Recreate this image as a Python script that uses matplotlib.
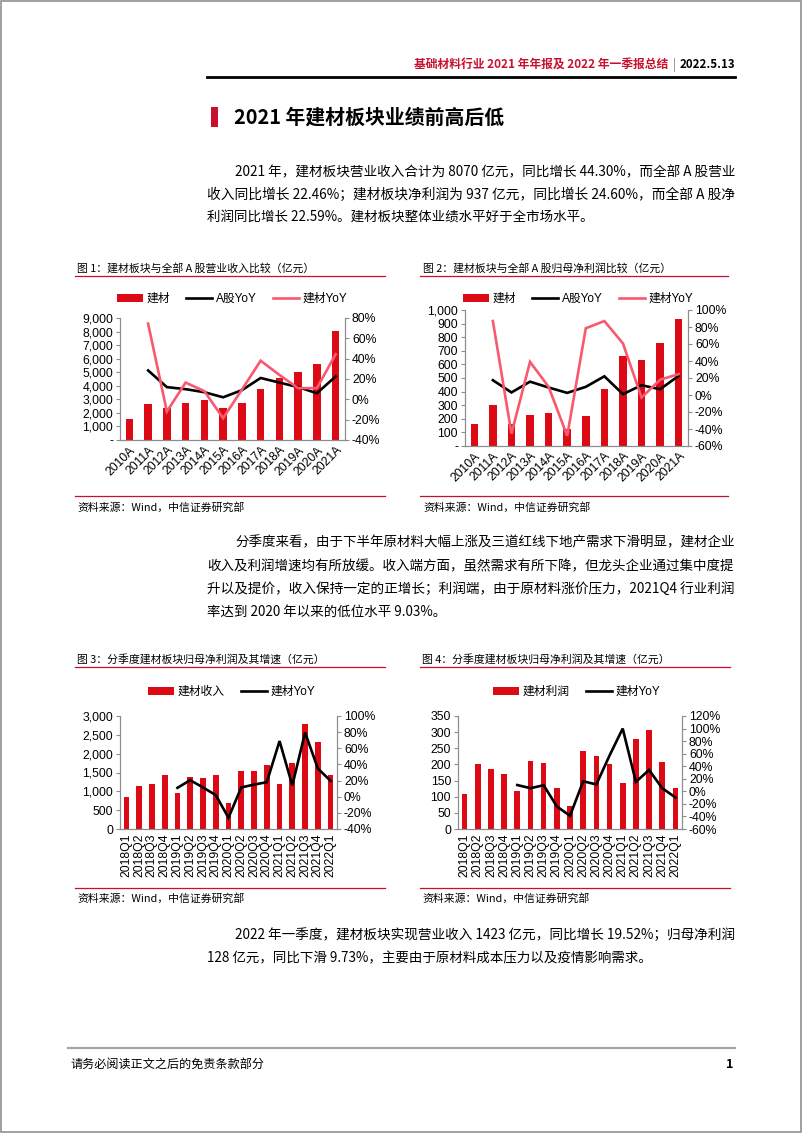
import matplotlib
matplotlib.use('Agg')
import matplotlib.pyplot as plt
from matplotlib.patches import Rectangle, Patch
from matplotlib.lines import Line2D
import matplotlib.ticker as mticker
import numpy as np

# ---------------- data ----------------
years = ['2010A', '2011A', '2012A', '2013A', '2014A', '2015A', '2016A',
         '2017A', '2018A', '2019A', '2020A', '2021A']
rev_jc = [1530, 2660, 2360, 2710, 2960, 2370, 2710, 3740, 4580, 5020, 5590, 8070]
rev_a_yoy = [np.nan, 28.4, 12.0, 10.0, 7.0, 2.0, 9.0, 21.0, 16.5, 12.0, 6.0, 22.46]
rev_jc_yoy = [np.nan, 74.5, -12.0, 16.5, 8.0, -18.5, 9.5, 38.0, 24.0, 11.0, 11.0, 44.3]

np_jc = [165, 302, 160, 225, 246, 125, 218, 418, 661, 636, 754, 937]
np_a_yoy = [np.nan, 17.4, 3.0, 15.7, 8.8, 2.5, 9.6, 22.0, 1.0, 11.5, 6.8, 22.59]
np_jc_yoy = [np.nan, 87.0, -45.5, 39.0, 9.6, -48.0, 78.5, 87.0, 60.7, -3.0, 18.0, 24.6]

quarters = ['2018Q1', '2018Q2', '2018Q3', '2018Q4', '2019Q1', '2019Q2', '2019Q3',
            '2019Q4', '2020Q1', '2020Q2', '2020Q3', '2020Q4', '2021Q1', '2021Q2',
            '2021Q3', '2021Q4', '2022Q1']
q_rev = [856, 1139, 1200, 1421, 953, 1368, 1341, 1439, 697, 1527, 1545, 1703,
         1183, 1747, 2780, 2312, 1423]
q_rev_yoy = [np.nan] * 4 + [11.0, 20.5, 11.5, 2.0, -26.0, 11.5, 15.0, 18.0,
                            69.0, 14.0, 79.5, 35.0, 19.52]
q_np = [108, 201, 185, 169, 118, 211, 203, 126, 71, 243, 226, 201,
        141, 278, 306, 209, 128]
q_np_yoy = [np.nan] * 4 + [10.0, 5.0, 9.7, -24.0, -39.0, 16.0, 11.0, 57.0,
                           100.0, 15.0, 34.0, 5.0, -9.73]

# ---------------- style ----------------
W, H = 802, 1133
RED = '#DC0A14'
PINK = '#F9596E'
CAPRED = '#C8102E'
GREY = '#8C8C8C'
CJK = ['Noto Sans CJK SC', 'DejaVu Sans']
plt.rcParams['font.family'] = ['Liberation Sans', 'Noto Sans CJK SC']
plt.rcParams['axes.unicode_minus'] = False

fig = plt.figure(figsize=(W / 100, H / 100), dpi=100)
renderer = fig.canvas.get_renderer()


def fx(x):
    return x / W


def fy(y):
    return 1 - y / H


def hline(x0, x1, y, color, lw):
    fig.add_artist(Line2D([fx(x0), fx(x1)], [fy(y), fy(y)], color=color, lw=lw,
                          transform=fig.transFigure))


def txt(x, y, s, size, color='black', weight='normal', ha='left', family=CJK, justify_to=None):
    t = fig.text(fx(x), fy(y), s, fontsize=size, color=color, weight=weight,
                 ha=ha, va='center', family=family)
    if justify_to is not None:
        bb = t.get_window_extent(renderer)
        scale = (justify_to - x) / bb.width
        scale = max(0.9, min(1.1, scale))
        t.set_fontsize(size * scale)
    return t


# page frame
fig.add_artist(Rectangle((0.001, 0.001), 0.998, 0.998, transform=fig.transFigure,
                         fill=False, edgecolor='#909090', lw=1.2))

# header
txt(668, 65, '基础材料行业 2021 年年报及 2022 年一季报总结', 8.5, color=CAPRED,
    weight='bold', ha='right')
txt(674, 65, '|', 8.5, color='#808080', ha='center')
txt(735, 65, '2022.5.13', 8.3, color='black', weight='bold', ha='right')
hline(207, 735, 77, 'black', 2.0)

# title
fig.add_artist(Rectangle((fx(211), fy(127)), 7 / W, 20 / H, transform=fig.transFigure,
                         facecolor=CAPRED, edgecolor='none'))
txt(234, 117, '2021 年建材板块业绩前高后低', 14.3, weight='bold')

BODY = 9.7
RIGHT = 735
# paragraph 1
txt(235, 172, '2021 年，建材板块营业收入合计为 8070 亿元，同比增长 44.30%，而全部 A 股营业', BODY, justify_to=RIGHT)
txt(207, 195, '收入同比增长 22.46%；建材板块净利润为 937 亿元，同比增长 24.60%，而全部 A 股净', BODY, justify_to=RIGHT)
txt(207, 218, '利润同比增长 22.59%。建材板块整体业绩水平好于全市场水平。', BODY)

# paragraph 2
txt(235, 542, '分季度来看，由于下半年原材料大幅上涨及三道红线下地产需求下滑明显，建材企业', BODY, justify_to=RIGHT)
txt(207, 566, '收入及利润增速均有所放缓。收入端方面，虽然需求有所下降，但龙头企业通过集中度提', BODY, justify_to=RIGHT)
txt(207, 589, '升以及提价，收入保持一定的正增长；利润端，由于原材料涨价压力，2021Q4 行业利润', BODY, justify_to=RIGHT)
txt(207, 612, '率达到 2020 年以来的低位水平 9.03%。', BODY)

# paragraph 3
txt(235, 935, '2022 年一季度，建材板块实现营业收入 1423 亿元，同比增长 19.52%；归母净利润', BODY, justify_to=RIGHT)
txt(207, 958, '128 亿元，同比下滑 9.73%，主要由于原材料成本压力以及疫情影响需求。', BODY)

# footer
hline(68, 735, 1048, '#A6A6A6', 1.6)
txt(70, 1064, '请务必阅读正文之后的免责条款部分', 8.7)
txt(733, 1064, '1', 9, weight='bold', ha='right')

# captions / source lines
CAP = 7.8
txt(77, 268, '图 1：建材板块与全部 A 股营业收入比较（亿元）', CAP)
hline(75, 385, 276, CAPRED, 0.9)
txt(423, 268, '图 2：建材板块与全部 A 股归母净利润比较（亿元）', CAP)
hline(420, 728, 276, CAPRED, 0.9)
hline(75, 385, 496, CAPRED, 0.9)
txt(77, 507, '资料来源：Wind，中信证券研究部', CAP)
hline(420, 728, 496, CAPRED, 0.9)
txt(423, 507, '资料来源：Wind，中信证券研究部', CAP)

txt(77, 659, '图 3：分季度建材板块归母净利润及其增速（亿元）', CAP)
hline(75, 385, 667, CAPRED, 0.9)
txt(422, 659, '图 4：分季度建材板块归母净利润及其增速（亿元）', CAP)
hline(420, 730, 667, CAPRED, 0.9)
hline(75, 385, 888, CAPRED, 0.9)
txt(77, 898, '资料来源：Wind，中信证券研究部', CAP)
hline(420, 730, 888, CAPRED, 0.9)
txt(422, 898, '资料来源：Wind，中信证券研究部', CAP)


# ---------------- charts ----------------
def make_chart(box, cats, bars, lines, ylim_l, step_l, ylim_r, step_r, dash_zero,
               rot, bar_w, legend_xy, bar_label, line_labels, line_colors):
    x0, y0, x1, y1 = box
    ax = fig.add_axes([fx(x0), fy(y1), (x1 - x0) / W, (y1 - y0) / H])
    xs = np.arange(len(cats))
    ax.bar(xs, bars, width=bar_w, color=RED, zorder=2)
    ax.set_xlim(-0.5, len(cats) - 0.5)
    ax.set_ylim(*ylim_l)
    ax.set_yticks(np.arange(ylim_l[0], ylim_l[1] + step_l / 2, step_l))

    def lfmt(v, p):
        if abs(v) < 1e-9:
            return '-' if dash_zero else '0'
        return '{:,.0f}'.format(v)
    ax.yaxis.set_major_formatter(mticker.FuncFormatter(lfmt))
    ax.set_xticks(xs)
    if rot == 45:
        ax.set_xticklabels(cats, rotation=45, ha='right', rotation_mode='anchor')
    else:
        ax.set_xticklabels(cats, rotation=90, ha='center', va='top')
    ax2 = ax.twinx()
    handles = [Patch(facecolor=RED, edgecolor='none')]
    for vals, col in zip(lines, line_colors):
        h, = ax2.plot(xs, vals, color=col, lw=1.9, solid_joinstyle='miter')
        handles.append(h)
    ax2.set_ylim(*ylim_r)
    ax2.set_yticks(np.arange(ylim_r[0], ylim_r[1] + step_r / 2, step_r))
    ax2.yaxis.set_major_formatter(mticker.FuncFormatter(lambda v, p: '{:.0f}%'.format(v)))
    for a in (ax, ax2):
        a.spines['top'].set_visible(False)
        for s in ('left', 'right', 'bottom'):
            a.spines[s].set_color(GREY)
            a.spines[s].set_linewidth(0.8)
        a.tick_params(axis='y', labelsize=8.8, length=3, width=0.8, color=GREY, pad=2)
        a.tick_params(axis='x', labelsize=8.8, length=0, pad=3)
    ax.patch.set_visible(False)
    ax2.legend(handles, [bar_label] + line_labels, loc='center',
               bbox_to_anchor=(fx(legend_xy[0]), fy(legend_xy[1])),
               bbox_transform=fig.transFigure, ncol=len(handles), frameon=False,
               fontsize=8.5, handlelength=2.2, handletextpad=0.3,
               columnspacing=1.4, borderpad=0, borderaxespad=0)
    return ax, ax2


make_chart((120, 318, 345, 440), years, rev_jc, [rev_a_yoy, rev_jc_yoy],
           (0, 9000), 1000, (-40, 80), 20, True, 45, 0.4, (232, 299),
           '建材', ['A股YoY', '建材YoY'], ['black', PINK])

make_chart((465, 310, 688, 446), years, np_jc, [np_a_yoy, np_jc_yoy],
           (0, 1000), 100, (-60, 100), 20, True, 45, 0.4, (578, 299),
           '建材', ['A股YoY', '建材YoY'], ['black', PINK])

make_chart((120, 716, 337, 829), quarters, q_rev, [q_rev_yoy],
           (0, 3000), 500, (-40, 100), 20, False, 90, 0.45, (232, 692),
           '建材收入', ['建材YoY'], ['black'])

make_chart((458, 716, 682, 829), quarters, q_np, [q_np_yoy],
           (0, 350), 50, (-60, 120), 20, False, 90, 0.43, (577, 692),
           '建材利润', ['建材YoY'], ['black'])

fig.savefig('out.png', dpi=100)
